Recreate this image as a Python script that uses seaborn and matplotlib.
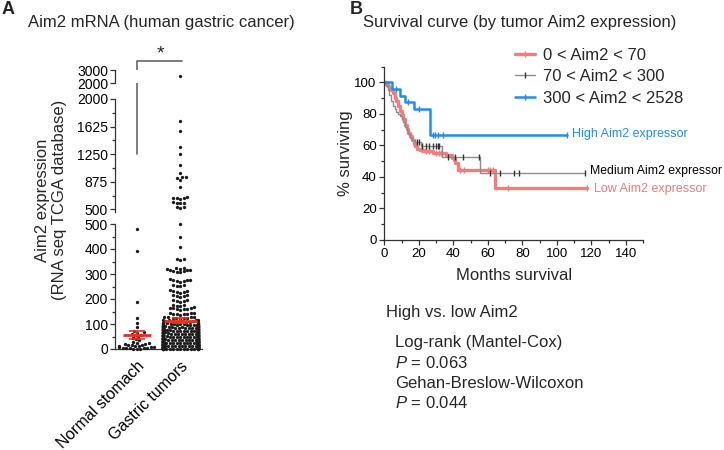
import warnings
import numpy as np
import pandas as pd
import matplotlib
matplotlib.use("Agg")
import matplotlib.pyplot as plt
from matplotlib.lines import Line2D
from matplotlib.ticker import MultipleLocator
import seaborn as sns

warnings.filterwarnings("ignore", category=UserWarning)

# ---- Panel A: Aim2 mRNA per sample ----
groups = ["Normal stomach", "Gastric tumors"]

normal_values = [479, 392, 190, 123, 104, 88, 72, 68, 65, 62, 58, 55, 50, 45,
                 40, 35, 28, 26, 22, 20, 18, 16, 14, 12, 10, 8, 7, 5, 4, 3,
                 2.2, 1.5, 0.8, 0.3, 6, 11, 17, 24]

tumor_high = [2528, 1701, 1565, 1352, 1252, 1103, 990, 945, 935, 925, 900, 800,
              665, 660, 655, 650, 645, 595, 590, 588, 585, 528, 525, 520]
tumor_mid = [500, 449, 409, 362, 360, 358, 325, 323, 322, 320, 318, 316, 315,
             313, 311, 310, 308, 280, 278, 276, 275, 274, 272, 270, 258, 256,
             254, 252, 235, 233, 231, 230, 228, 226, 218, 216, 214, 212, 210,
             198, 196, 194, 192, 190, 178, 176, 174, 172, 170, 165, 164, 163,
             162, 161, 160, 158, 145, 144, 143, 142, 141, 140, 139, 138, 130,
             129, 128, 127, 126, 125, 124, 123, 122, 118, 117, 116, 115, 114,
             113, 112, 111, 110, 109, 108, 107, 106, 105, 104, 103, 102, 101, 100]
tumor_low = [
    0.1, 0.2, 0.3, 0.4, 0.5, 0.7, 0.8, 1.0, 1.2, 1.3, 1.5, 1.7, 1.9, 2.0, 2.2,
    2.4, 2.6, 2.8, 3.0, 3.1, 3.3, 3.6, 3.8, 4.0, 4.2, 4.4, 4.6, 4.9, 5.1, 5.3,
    5.5, 5.8, 6.0, 6.2, 6.4, 6.7, 6.9, 7.1, 7.3, 7.6, 7.8, 8.0, 8.3, 8.5, 8.7,
    9.0, 9.2, 9.4, 9.7, 9.9, 0.6, 1.4, 2.7, 3.5, 4.7, 5.6, 6.5, 7.5, 8.1, 9.5,
    10.1, 10.3, 10.6, 10.8, 11.0, 11.2, 11.5, 11.7, 11.9, 12.1, 12.4, 12.6,
    12.8, 13.0, 13.3, 13.5, 13.7, 14.0, 14.2, 14.4, 14.7, 14.9, 15.1, 15.3,
    15.6, 15.8, 16.0, 16.3, 16.5, 16.7, 17.0, 17.2, 17.4, 17.7, 17.9, 18.1,
    18.4, 18.6, 18.8, 19.1, 19.3, 19.5, 19.8, 12.2, 16.9, 10.5, 11.4, 13.8,
    15.0, 17.5, 18.9, 14.5, 16.2, 19.0, 11.8,
    20.1, 20.4, 20.6, 20.9, 21.2, 21.4, 21.7, 22.0, 22.2, 22.5, 22.8, 23.0,
    23.3, 23.6, 23.8, 24.1, 24.4, 24.6, 24.9, 25.2, 25.4, 25.7, 26.0, 26.2,
    26.5, 26.8, 27.0, 27.3, 27.6, 27.8, 28.1, 28.4, 28.6, 28.9, 29.2, 29.4,
    29.7, 21.1, 24.0, 27.1, 20.8, 22.6, 23.9, 25.5, 26.6, 28.0, 29.0, 21.9,
    24.7, 27.5,
    30.2, 30.5, 30.8, 31.0, 31.3, 31.6, 31.9, 32.2, 32.4, 32.7, 33.0, 33.3,
    33.6, 33.8, 34.1, 34.4, 34.7, 35.0, 35.2, 35.5, 35.8, 36.1, 36.4, 36.6,
    36.9, 37.2, 37.5, 37.8, 38.0, 38.3, 38.6, 38.9, 39.2, 39.4, 39.7, 32.0,
    35.9, 38.8, 31.5, 34.0, 36.0, 37.0, 39.0, 33.5,
    40.1, 40.4, 40.7, 41.0, 41.3, 41.6, 41.9, 42.2, 42.5, 42.8, 43.1, 43.4,
    43.7, 44.0, 44.3, 44.6, 44.9, 45.2, 45.5, 45.8, 46.1, 46.4, 46.7, 47.0,
    47.3, 47.6, 47.9, 48.2, 48.5, 48.8, 49.1, 49.4, 49.7, 43.9, 46.9,
    50.2, 50.5, 50.9, 51.2, 51.5, 51.8, 52.2, 52.5, 52.8, 53.1, 53.5, 53.8,
    54.1, 54.4, 54.8, 55.1, 55.4, 55.7, 56.1, 56.4, 56.7, 57.0, 57.4, 57.7,
    58.0, 58.3, 58.7, 59.0, 59.3, 59.6, 53.9, 57.2,
    60.2, 60.5, 60.9, 61.2, 61.6, 61.9, 62.3, 62.6, 63.0, 63.3, 63.7, 64.0,
    64.4, 64.7, 65.1, 65.4, 65.8, 66.1, 66.5, 66.8, 67.2, 67.5, 67.9, 68.2,
    68.6, 68.9, 69.3, 69.6, 62.0, 66.0,
    70.2, 70.6, 71.0, 71.4, 71.8, 72.1, 72.5, 72.9, 73.3, 73.7, 74.1, 74.5,
    74.9, 75.2, 75.6, 76.0, 76.4, 76.8, 77.2, 77.6, 78.0, 78.3, 78.7, 79.1,
    79.5, 73.0, 76.2,
    80.3, 80.7, 81.1, 81.6, 82.0, 82.4, 82.8, 83.3, 83.7, 84.1, 84.5, 85.0,
    85.4, 85.8, 86.2, 86.7, 87.1, 87.5, 87.9, 88.4, 88.8, 89.2, 89.6, 84.8,
    90.2, 90.7, 91.1, 91.6, 92.0, 92.5, 92.9, 93.4, 93.8, 94.3, 94.7, 95.2,
    95.6, 96.1, 96.5, 97.0, 97.4, 97.9, 98.3, 98.8, 99.2, 99.6,
]
tumor_values = tumor_high + tumor_mid + tumor_low

# ---- Panel B: Kaplan-Meier curves ----
low_t = [0, 1, 2, 3, 4, 5, 6, 7, 8, 9, 10, 11, 12, 13, 14, 15, 16, 17, 18, 19,
         20.5, 23, 28, 34, 36, 39, 41, 43, 64.2, 117.4]
low_s = [100, 99, 98, 96.5, 95, 93, 90, 88, 85, 82, 79.5, 76.5, 73, 70.5, 68,
         66, 63.5, 61, 59.5, 58, 57, 56.2, 55.5, 55, 54, 52, 48.7, 44.4, 33.3, 33.3]
low_censor = [22, 24, 26, 30, 32, 33, 40, 44, 46, 60, 61.5, 63, 71.5, 117.4]

mid_t = [0, 1, 2, 3, 4, 5, 6, 7, 8, 9, 10, 11, 12, 13, 14, 15, 16, 18, 21,
         33.3, 55.5, 116.4]
mid_s = [100, 98, 95, 92, 88, 85, 83, 81, 80, 79, 77, 75, 72, 70, 67, 65, 63.5,
         62, 59.5, 52.9, 42.3, 42.3]
mid_censor = [19, 20, 22, 24, 26, 28, 30, 31, 32, 37, 41, 45.5, 55, 61, 67, 75,
              78, 116.4]

high_t = [0, 4.5, 9, 12, 17, 26.5, 105.8]
high_s = [100, 95.8, 91.7, 87.5, 83.3, 66.7, 66.7]
high_censor = [7, 14, 20, 28, 29.5, 31, 34, 105.8]

series_labels = ["0 < Aim2 < 70", "70 < Aim2 < 300", "300 < Aim2 < 2528"]
curve_names = ["Low Aim2 expressor", "Medium Aim2 expressor", "High Aim2 expressor"]

RED = "#f47c7c"
GRAY = "#8c8c8c"
BLUE = "#1e8ff0"
DOT = "#1c1c1c"
MEAN_RED = "#e8321f"
SPINE = "#333333"

sns.set_style("ticks")
plt.rcParams["font.family"] = ["Liberation Sans", "DejaVu Sans"]
plt.rcParams["mathtext.fontset"] = "custom"
plt.rcParams["mathtext.rm"] = "Liberation Sans"
plt.rcParams["mathtext.it"] = "Liberation Sans:italic"
plt.rcParams["axes.edgecolor"] = SPINE
plt.rcParams["xtick.color"] = SPINE
plt.rcParams["ytick.color"] = SPINE
plt.rcParams["xtick.labelcolor"] = "black"
plt.rcParams["ytick.labelcolor"] = "black"

W, H = 724, 450
fig = plt.figure(figsize=(7.24, 4.5), dpi=100)


def fx(px):
    return px / W


def fy(py):
    return 1 - py / H


df = pd.DataFrame({
    "group": [groups[0]] * len(normal_values) + [groups[1]] * len(tumor_values),
    "value": normal_values + tumor_values,
})

left, width = fx(115), 87 / W
ax_bot = fig.add_axes([left, fy(349), width, 125 / H])
ax_mid = fig.add_axes([left, fy(211.5), width, 112.5 / H])
ax_top = fig.add_axes([left, fy(83.3), width, 13.3 / H])

segments = [(ax_bot, -1, 500, (0, 500)), (ax_mid, 500, 2000, (470, 2000)),
            (ax_top, 2000, 3000, (2000, 3000))]
for ax, lo, hi, lim in segments:
    sub = df[(df["value"] > lo) & (df["value"] <= hi)]
    sns.swarmplot(data=sub, x="group", y="value", order=groups, color=DOT,
                  size=2.4, linewidth=0, ax=ax)
    for coll in ax.collections:
        coll.set_clip_on(False)
    ax.set_xlim(-0.5, 1.5)
    ax.set_ylim(*lim)
    ax.set_xlabel("")
    ax.set_ylabel("")
    sns.despine(ax=ax)
    ax.tick_params(axis="y", labelsize=10, length=3.5, width=0.9, pad=1.5)
    ax.tick_params(axis="y", which="minor", length=2, width=0.9)
    ax.spines["left"].set_linewidth(0.9)

for ax in (ax_mid, ax_top):
    ax.spines["bottom"].set_visible(False)
    ax.set_xticks([])

ax_bot.yaxis.set_major_locator(MultipleLocator(100))
ax_bot.yaxis.set_minor_locator(MultipleLocator(50))
ax_mid.set_yticks([500, 875, 1250, 1625, 2000])
ax_mid.set_yticks([687.5, 1062.5, 1437.5, 1812.5], minor=True)
ax_top.set_yticks([2000, 3000])
ax_bot.spines["bottom"].set_linewidth(0.9)
ax_bot.set_xticks([0, 1])
ax_bot.set_xticklabels(groups, rotation=45, ha="right", rotation_mode="anchor",
                       fontsize=11.5)
ax_bot.tick_params(axis="x", length=0, pad=7)

# mean +/- SEM
for pos, vals, half in [(0, normal_values, 0.32), (1, tumor_values, 0.38)]:
    arr = np.asarray(vals, dtype=float)
    m = arr.mean()
    sem = arr.std(ddof=1) / np.sqrt(len(arr))
    ax_bot.errorbar(pos, m, yerr=sem, fmt="none", ecolor=MEAN_RED,
                    elinewidth=1.2, capsize=6, capthick=1.2, zorder=5)
    ax_bot.hlines(m, pos - half, pos + half, color=MEAN_RED, lw=2, zorder=6)

# significance bracket
ax_mid.plot([0, 0, 1.05], [1250, 2520, 2520], color="#666666", lw=1.2,
            clip_on=False)
fig.text(fx(160), fy(54), "*", fontsize=14, ha="center", va="center")

fig.text(fx(51), fy(200), "Aim2 expression\n(RNA seq TCGA database)",
         rotation=90, ha="center", va="center", fontsize=12, linespacing=1.1)
fig.text(fx(2), fy(9), "A", fontsize=13, weight="bold", va="center")
fig.text(fx(28), fy(23), "Aim2 mRNA (human gastric cancer)", fontsize=12,
         va="center")

# ---- Panel B ----
ax_b = fig.add_axes([fx(384.3), fy(240), (643 - 384.3) / W, 173.3 / H])
curves = [(low_t, low_s, low_censor, RED, 2.4, RED),
          (mid_t, mid_s, mid_censor, GRAY, 1.0, "#333333"),
          (high_t, high_s, high_censor, BLUE, 1.8, BLUE)]
handles = []
for t, s, cens, col, lw, tick_col in curves:
    sns.lineplot(x=t, y=s, drawstyle="steps-post", color=col, lw=lw,
                 estimator=None, sort=False, ax=ax_b)
    idx = np.searchsorted(t, cens, side="right") - 1
    ax_b.plot(cens, np.asarray(s)[idx], linestyle="none", marker="|",
              markersize=4, mew=1, color=tick_col, clip_on=False)
    handles.append(Line2D([], [], color=col, lw=lw, marker="|", markersize=5,
                          mew=1, markeredgecolor=tick_col))

ax_b.set_xlim(0, 150)
ax_b.set_ylim(0, 110)
ax_b.xaxis.set_minor_locator(MultipleLocator(10))
ax_b.set_xticks(np.arange(0, 141, 20))
ax_b.yaxis.set_minor_locator(MultipleLocator(10))
ax_b.set_yticks(np.arange(0, 101, 20))
sns.despine(ax=ax_b)
for sp in ("left", "bottom"):
    ax_b.spines[sp].set_linewidth(0.9)
ax_b.tick_params(labelsize=9.5, length=3.5, width=0.9, pad=2)
ax_b.tick_params(which="minor", length=2, width=0.9)
ax_b.set_xlabel("Months survival", fontsize=12, labelpad=6)
ax_b.set_ylabel("% surviving", fontsize=12, labelpad=1)

ax_b.text(109, 67, curve_names[2], color=BLUE, fontsize=9, va="center",
          clip_on=False)
ax_b.text(119.5, 44, curve_names[1], color="black", fontsize=8.8, va="center",
          clip_on=False)
ax_b.text(121.5, 32.6, curve_names[0], color=RED, fontsize=9, va="center",
          clip_on=False)

fig.legend(handles, series_labels, loc="upper left",
           bbox_to_anchor=(fx(515), fy(48)), frameon=False, fontsize=12,
           handlelength=1.2, handletextpad=0.5, labelspacing=0.38,
           borderpad=0, borderaxespad=0)

fig.text(fx(350), fy(9), "B", fontsize=13, weight="bold", va="center")
fig.text(fx(363), fy(23), "Survival curve (by tumor Aim2 expression)",
         fontsize=12, va="center")

fig.text(fx(386), fy(313), "High vs. low Aim2", fontsize=12, va="center")
fig.text(fx(395), fy(343), "Log-rank (Mantel-Cox)", fontsize=12, va="center")
fig.text(fx(395), fy(363), r"$P$ = 0.063", fontsize=12, va="center")
fig.text(fx(395), fy(383), "Gehan-Breslow-Wilcoxon", fontsize=12, va="center")
fig.text(fx(395), fy(403), r"$P$ = 0.044", fontsize=12, va="center")

fig.savefig("out.png", dpi=100)
